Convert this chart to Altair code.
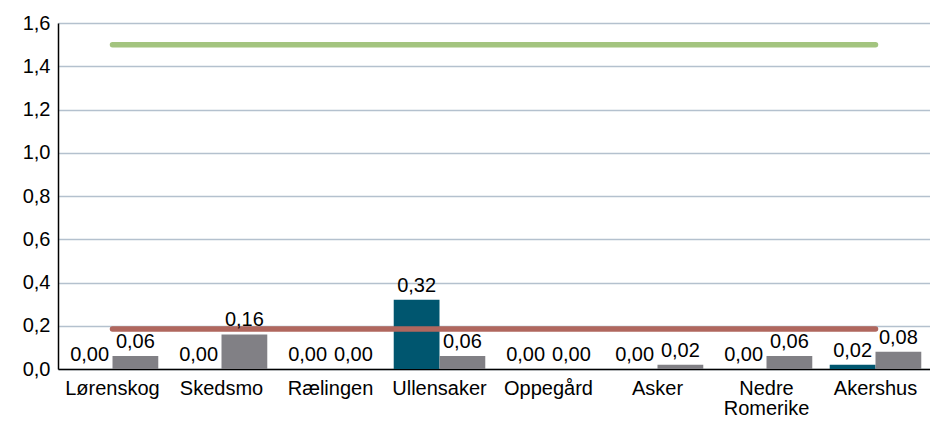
import altair as alt
import pandas as pd

categories = ["Lørenskog", "Skedsmo", "Rælingen", "Ullensaker", "Oppegård", "Asker", "Nedre Romerike", "Akershus"]
series_a = [0.00, 0.00, 0.00, 0.32, 0.00, 0.00, 0.00, 0.02]
series_b = [0.06, 0.16, 0.00, 0.06, 0.00, 0.02, 0.06, 0.08]
line_high = [1.5] * len(categories)
line_low = [0.185] * len(categories)

FONT = "Liberation Sans"
FS = 20

rows = []
for c, a, b in zip(categories, series_a, series_b):
    rows.append({"cat": c, "s": "A", "v": a, "lbl": f"{a:.2f}".replace(".", ",")})
    rows.append({"cat": c, "s": "B", "v": b, "lbl": f"{b:.2f}".replace(".", ",")})
bars_df = pd.DataFrame(rows)

lines_df = pd.DataFrame(
    [{"cat": c, "line": "high", "v": v} for c, v in zip(categories, line_high)]
    + [{"cat": c, "line": "low", "v": v} for c, v in zip(categories, line_low)]
)

xscale = alt.Scale(domain=categories, paddingInner=0.16, paddingOuter=0.08)
yscale = alt.Scale(domain=[0, 1.6])

x_enc = alt.X(
    "cat:N", scale=xscale, sort=categories, title=None,
    axis=alt.Axis(
        labelAngle=0, ticks=False, domainColor="black", domainWidth=1.5,
        labelFont=FONT, labelFontSize=FS, labelColor="black", labelPadding=9,
        labelExpr="datum.label == 'Nedre Romerike' ? ['Nedre', 'Romerike'] : datum.label",
        labelLineHeight=20,
        grid=False,
    ),
)
y_enc = alt.Y(
    "v:Q", scale=yscale, title=None,
    axis=alt.Axis(
        values=[0, 0.2, 0.4, 0.6, 0.8, 1.0, 1.2, 1.4, 1.6],
        labelExpr="replace(format(datum.value, '.1f'), '.', ',')",
        ticks=False, domainColor="black", domainWidth=1.5,
        labelFont=FONT, labelFontSize=FS, labelColor="black", labelPadding=8,
        grid=True, gridColor="#B4C1CE", gridWidth=1.5,
    ),
)

color_scale = alt.Scale(domain=["A", "B"], range=["#00566F", "#818085"])

bars = alt.Chart(bars_df).mark_bar().encode(
    x=x_enc,
    xOffset=alt.XOffset("s:N", scale=alt.Scale(domain=["A", "B"], paddingInner=0, paddingOuter=0)),
    y=y_enc,
    color=alt.Color("s:N", scale=color_scale, legend=None),
)

texts = alt.Chart(bars_df).mark_text(
    baseline="bottom", dy=-4, font=FONT, fontSize=FS, color="black"
).encode(
    x=alt.X("cat:N", scale=xscale, sort=categories),
    xOffset=alt.XOffset("s:N", scale=alt.Scale(domain=["A", "B"], paddingInner=0, paddingOuter=0)),
    y=alt.Y("v:Q", scale=yscale),
    text="lbl:N",
)

lines = alt.Chart(lines_df).mark_line(strokeWidth=5.5, strokeCap="round").encode(
    x=alt.X("cat:N", scale=xscale, sort=categories),
    y=alt.Y("v:Q", scale=yscale),
    color=alt.Color("line:N", scale=alt.Scale(domain=["high", "low"], range=["#A3C47F", "#B0675E"]), legend=None),
    detail="line:N",
)

chart = alt.layer(bars, lines, texts).resolve_scale(color="independent").properties(
    width=872, height=346,
    autosize=alt.AutoSizeParams(type="none"),
    padding={"left": 50, "top": 15, "right": 0, "bottom": 50},
).configure_view(stroke=None)

chart.save("out.html", embed_options={"renderer": "svg", "actions": False})
